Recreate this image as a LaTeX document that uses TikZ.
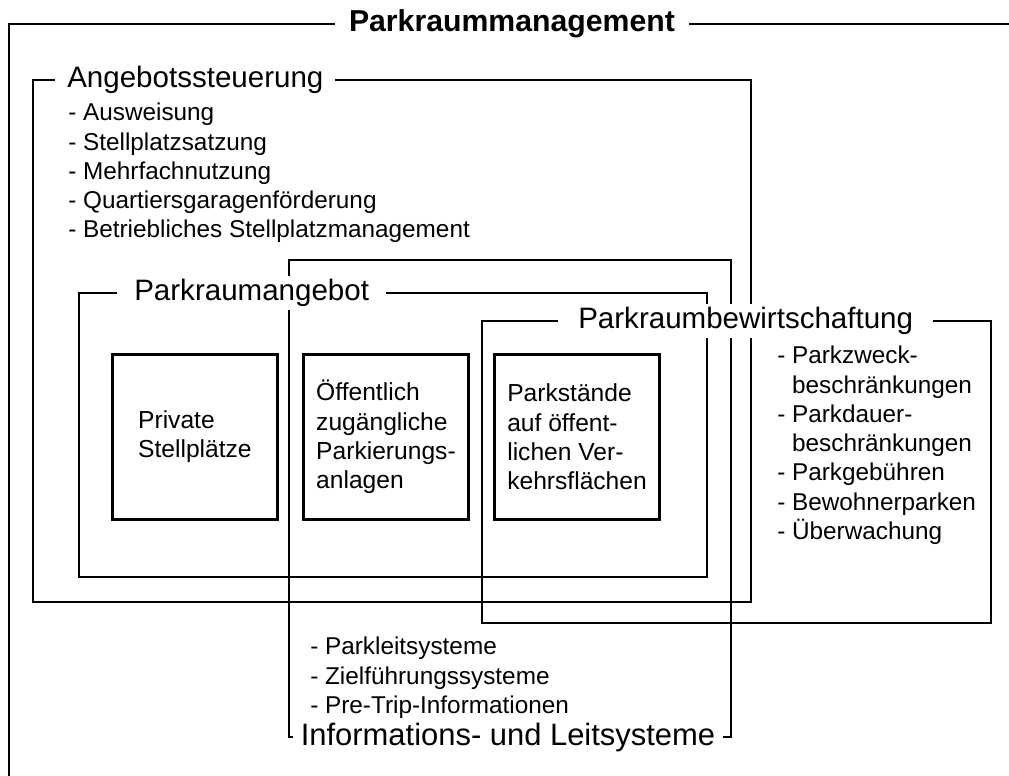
\documentclass[tikz,border=0pt]{standalone}
\usepackage{fontspec}
\setmainfont{Liberation Sans}
\usetikzlibrary{
    positioning,
}

\begin{document}
\begin{tikzpicture}[
    x=0.025cm, y=-0.025cm,
    node distance= 0.58cm,
    frame/.style={line width=2pt},
    frametitle/.style={fill=white, font=\fontsize{21}{25}\selectfont,
    inner ysep=2pt, inner xsep=0.3cm, anchor=west},
    itemlist/.style={align=left, font=\fontsize{17.3}{20.8}\selectfont,
    inner sep=0pt, anchor=north west},
    place/.style={draw, line width=2pt, minimum width=4.125cm,
    minimum height=4.125cm, align=left, font=\fontsize{17.5}{20.8}\selectfont},
]

\useasboundingbox (0,0) rectangle (1009,776);

% FRAMES
\draw[frame] (9,776) -- (9,24) -- (1009,24);
\draw[frame] (33,80) rectangle (751,602);
\draw[frame] (79,293) rectangle (707,577);
\draw[frame] (289,260) rectangle (731,737);
\draw[frame] (482,321) rectangle (991,623);

% PLACES
\node[place, anchor=north west] at (111,353) (private) {Private\\Stellplätze};
\node[place] [right=of private] (garage) {Öffentlich\\zugängliche\\Parkierungs-\\anlagen};
\node[place] [right=of garage] (street) {Parkstände\\auf öffent-\\lichen Ver-\\kehrsflächen};

% TITLES
\node[frametitle, anchor=center, inner xsep=0.35cm,
    font=\fontsize{21.5}{25}\selectfont\bfseries] at (512,24) (management)
    {Parkraummanagement};
\node[frametitle] at (55,80) (steuerung) {Angebotssteuerung};
\node[frametitle, inner xsep=0.425cm] at (117,293) (angebot) {Parkraumangebot};
\node[frametitle, inner xsep=0.5cm] at (558,321) (bewirtschaftung)
    {Parkraumbewirtschaftung};
\node[frametitle, anchor=center, inner xsep=0.2cm,
    font=\fontsize{22}{25}\selectfont] at (508,737) (leitsysteme)
    {Informations- und Leitsysteme};

% LISTS
\node[itemlist] at (68,103) (steuerlist)
    {- Ausweisung\\- Stellplatzsatzung\\- Mehrfachnutzung\\
    - Quartiersgaragenförderung\\- Betriebliches Stellplatzmanagement};
\node[itemlist] at (777,346) (bewirtlist)
    {- Parkzweck-\\\phantom{- }beschränkungen\\- Parkdauer-\\
    \phantom{- }beschränkungen\\- Parkgebühren\\- Bewohnerparken\\- Überwachung};
\node[itemlist] at (310,637) (leitlist)
    {- Parkleitsysteme\\- Zielführungssysteme\\- Pre-Trip-Informationen};

\end{tikzpicture}
\end{document}
